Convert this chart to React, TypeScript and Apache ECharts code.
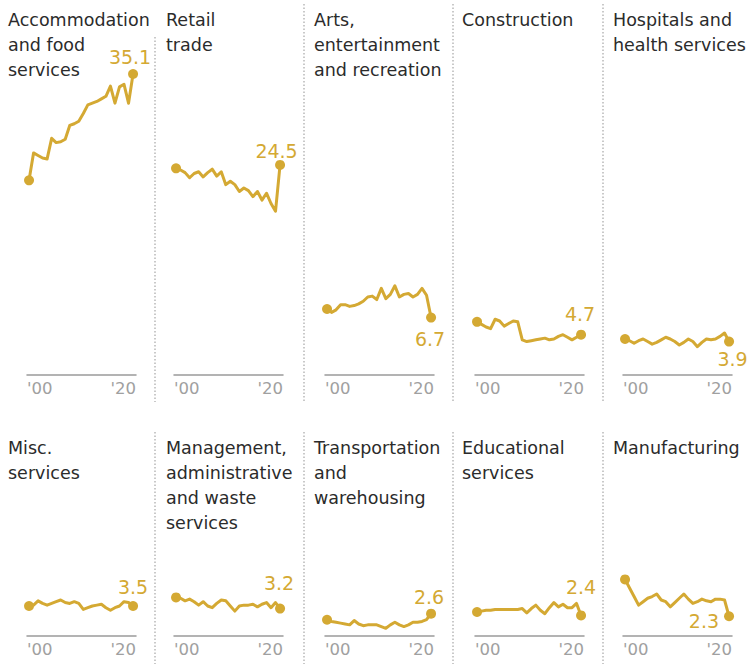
import React, { useEffect, useRef } from "react";
import * as echarts from "echarts";

// ---------- data ----------
const years = [
  2000, 2001, 2002, 2003, 2004, 2005, 2006, 2007, 2008, 2009, 2010, 2011,
  2012, 2013, 2014, 2015, 2016, 2017, 2018, 2019, 2020, 2021, 2022, 2023,
];
const tickLabels = ["'00", "'20"];

const industries = [
  "Accommodation\nand food\nservices",
  "Retail\ntrade",
  "Arts,\nentertainment\nand recreation",
  "Construction",
  "Hospitals and\nhealth services",
  "Misc.\nservices",
  "Management,\nadministrative\nand waste\nservices",
  "Transportation\nand\nwarehousing",
  "Educational\nservices",
  "Manufacturing",
];

const accommodation = [22.7, 25.9, 25.6, 25.3, 25.2, 27.6, 27.1, 27.2, 27.5, 29.1, 29.3, 29.6, 30.5, 31.5, 31.7, 31.9, 32.2, 32.5, 33.7, 31.7, 33.6, 33.9, 31.7, 35.1];
const retail = [24.1, 23.9, 23.6, 23.0, 23.5, 23.7, 23.1, 23.6, 24.0, 23.2, 23.7, 22.2, 22.6, 22.2, 21.4, 21.8, 21.5, 20.8, 21.4, 20.4, 21.2, 20.0, 19.1, 24.5];
const arts = [7.7, 7.3, 7.6, 8.2, 8.2, 8.0, 8.1, 8.3, 8.6, 9.1, 9.2, 8.8, 10.1, 8.9, 9.4, 10.4, 9.1, 9.4, 9.5, 9.1, 9.4, 10.1, 9.3, 6.7];
const construction = [6.2, 5.9, 5.6, 5.4, 6.5, 6.3, 5.7, 6.0, 6.3, 6.2, 4.1, 3.9, 4.0, 4.1, 4.2, 4.3, 4.1, 4.2, 4.5, 4.7, 4.4, 4.1, 4.4, 4.7];
const hospitals = [4.2, 4.0, 3.7, 4.0, 4.2, 3.9, 3.6, 3.8, 4.1, 4.4, 4.2, 3.9, 3.5, 3.8, 4.2, 3.9, 3.3, 3.8, 4.2, 4.1, 4.2, 4.5, 4.9, 3.9];
const misc = [3.5, 3.6, 4.1, 3.8, 3.6, 3.8, 4.0, 4.2, 3.9, 3.8, 4.0, 3.8, 3.1, 3.3, 3.5, 3.6, 3.7, 3.3, 3.0, 3.3, 3.5, 4.0, 3.9, 3.5];
const management = [4.5, 4.4, 4.1, 4.3, 4.0, 3.6, 4.0, 3.5, 3.3, 3.8, 4.2, 4.1, 3.5, 2.9, 3.5, 3.6, 3.6, 3.7, 3.4, 3.7, 3.9, 3.3, 3.9, 3.2];
const transportation = [1.9, 1.7, 1.6, 1.5, 1.4, 1.3, 1.8, 1.4, 1.2, 1.3, 1.3, 1.3, 1.1, 0.9, 1.3, 1.6, 1.3, 1.1, 1.3, 1.6, 1.6, 1.7, 1.9, 2.6];
const educational = [2.8, 2.9, 3.0, 3.0, 3.1, 3.1, 3.1, 3.1, 3.1, 3.1, 3.2, 2.7, 3.2, 3.6, 3.0, 2.6, 3.3, 3.9, 3.4, 3.7, 3.3, 3.3, 3.8, 2.4];
const manufacturing = [6.6, 5.6, 4.6, 3.6, 4.0, 4.4, 4.6, 4.9, 4.2, 4.0, 3.4, 3.9, 4.4, 4.9, 4.3, 3.8, 4.0, 4.3, 4.1, 4.0, 4.3, 4.3, 4.2, 2.3];

const seriesValues = [
  accommodation, retail, arts, construction, hospitals,
  misc, management, transportation, educational, manufacturing,
];

// ---------- layout / style ----------
const W = 749;
const H = 664;
const GOLD = "#D4A933";
const FONT = "DejaVu Sans, Verdana, sans-serif";
const panelLeft = [27, 174, 325, 475, 623];
const titleLeft = [8, 166, 314, 462, 613];
const titleTop = [7, 435];
const gridWidth = 109;
const rowBottom = [375, 636];
const rowMax = [40, 10];
const pxPerUnit = 8.575;
const xMin = 1999.55;
const xMax = 2023.65;
const separatorX = [155, 304, 453, 603];

// value label placement for each panel
const labelPlace: { position: string; distance: number; offset: [number, number] }[] = [
  { position: "top", distance: 3, offset: [-3, 0] },
  { position: "top", distance: -1, offset: [-3.5, 0] },
  { position: "bottom", distance: 7, offset: [-1, 0] },
  { position: "top", distance: 6.5, offset: [-1, 0] },
  { position: "bottom", distance: 3, offset: [3.5, 0] },
  { position: "top", distance: 4, offset: [0, 0] },
  { position: "top", distance: 11.5, offset: [-1, 0] },
  { position: "top", distance: 2.5, offset: [-2, 0] },
  { position: "top", distance: 14, offset: [0, 0] },
  { position: "left", distance: 5, offset: [0, 5] },
];

function buildOption() {
  const grid: any[] = [];
  const xAxis: any[] = [];
  const yAxis: any[] = [];
  const series: any[] = [];
  const title: any[] = [];

  seriesValues.forEach((vals, idx) => {
    const row = Math.floor(idx / 5);
    const col = idx % 5;
    const height = rowMax[row] * pxPerUnit;
    grid.push({
      left: panelLeft[col],
      width: gridWidth,
      top: rowBottom[row] - height,
      height,
      containLabel: false,
    });
    xAxis.push({
      type: "value",
      gridIndex: idx,
      min: xMin,
      max: xMax,
      splitLine: { show: false },
      axisTick: { show: false },
      axisLine: { show: true, lineStyle: { color: "#9a9a9a", width: 1.5 } },
      axisLabel: {
        show: true,
        showMinLabel: true,
        showMaxLabel: true,
        hideOverlap: false,
        alignMinLabel: "left",
        alignMaxLabel: "right",
        margin: 5,
        color: "#a0a0a0",
        fontSize: 16.5,
        fontFamily: FONT,
        formatter: (v: number) =>
          Math.abs(v - xMin) < 0.01 ? tickLabels[0] : Math.abs(v - xMax) < 0.01 ? tickLabels[1] : "",
      },
    });
    yAxis.push({
      type: "value",
      gridIndex: idx,
      min: 0,
      max: rowMax[row],
      show: false,
    });
    const lp = labelPlace[idx];
    const last = vals.length - 1;
    series.push({
      type: "line",
      xAxisIndex: idx,
      yAxisIndex: idx,
      symbol: "none",
      showSymbol: true,
      lineStyle: { color: GOLD, width: 3, join: "round", cap: "round" },
      itemStyle: { color: GOLD },
      data: vals.map((v, i) => {
        if (i === 0) {
          return { value: [years[i], v], symbol: "circle", symbolSize: 10 };
        }
        if (i === last) {
          return {
            value: [years[i], v],
            symbol: "circle",
            symbolSize: 10,
            label: {
              show: true,
              position: lp.position,
              distance: lp.distance,
              offset: lp.offset,
              formatter: v.toFixed(1),
              color: GOLD,
              fontSize: 19,
              fontFamily: FONT,
            },
          };
        }
        return { value: [years[i], v] };
      }),
    });
    title.push({
      text: industries[idx],
      left: titleLeft[col],
      top: titleTop[row],
      padding: 0,
      textStyle: {
        color: "#2b2b2b",
        fontSize: 17.5,
        lineHeight: 25,
        fontWeight: "normal",
        fontFamily: FONT,
      },
    });
  });

  const graphic: any[] = [];
  separatorX.forEach((x, i) => {
    graphic.push({
      type: "line",
      silent: true,
      z: -1,
      shape: { x1: x, y1: i === 0 ? 37 : 4, x2: x, y2: 402 },
      style: { stroke: "#b8b8b8", lineWidth: 1.5, lineDash: [1.5, 2] },
    });
    graphic.push({
      type: "line",
      silent: true,
      z: -1,
      shape: { x1: x, y1: 432, x2: x, y2: H },
      style: { stroke: "#b8b8b8", lineWidth: 1.5, lineDash: [1.5, 2] },
    });
  });

  return {
    animation: false,
    backgroundColor: "#ffffff",
    textStyle: { fontFamily: FONT },
    title,
    grid,
    xAxis,
    yAxis,
    series,
    graphic,
  };
}

export default function App() {
  const ref = useRef<HTMLDivElement>(null);
  useEffect(() => {
    document.body.style.margin = "0";
    if (!ref.current) return;
    const chart = echarts.init(ref.current, undefined, { renderer: "svg" });
    chart.setOption(buildOption() as any);
    return () => chart.dispose();
  }, []);
  return <div ref={ref} style={{ width: W, height: H }} />;
}
